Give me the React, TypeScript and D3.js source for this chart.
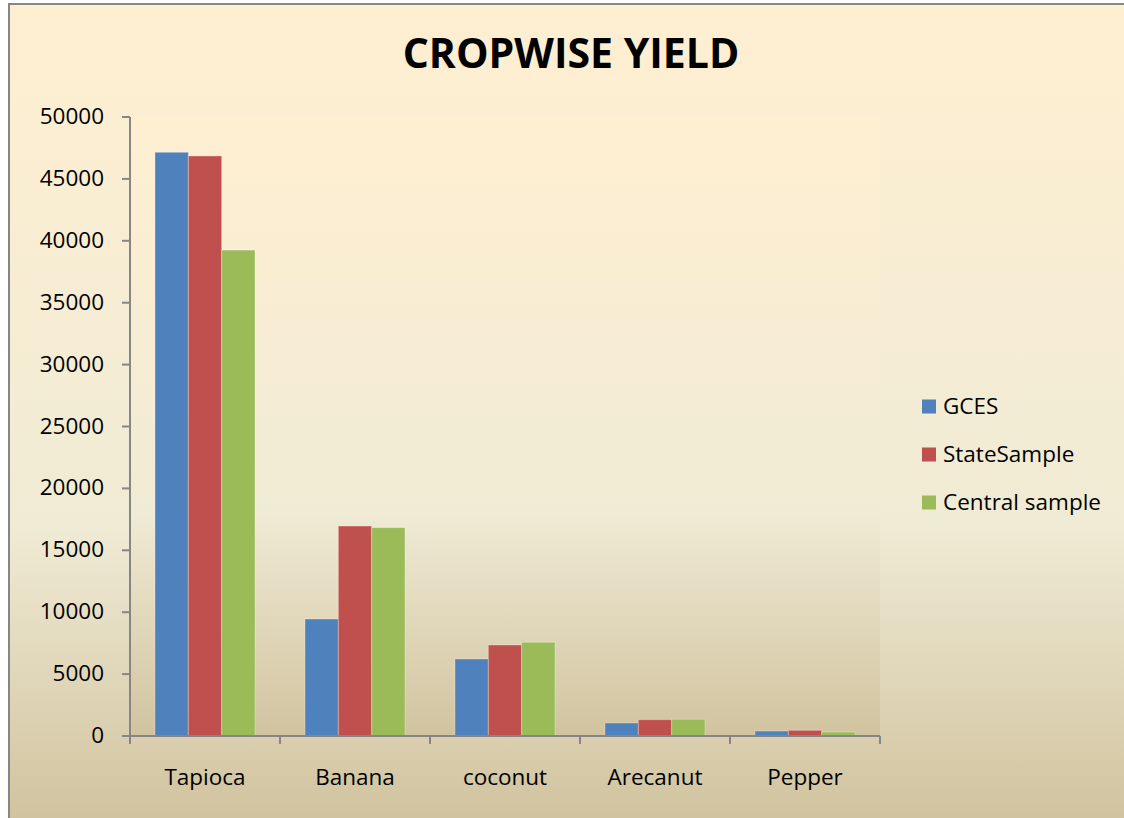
import React from "react";
import * as d3 from "d3";

const categories = ["Tapioca", "Banana", "coconut", "Arecanut", "Pepper"];
const seriesNames = ["GCES", "StateSample", "Central sample"];
const gces = [47150, 9450, 6220, 1050, 400];
const stateSample = [46850, 16960, 7350, 1320, 460];
const centralSample = [39250, 16830, 7570, 1350, 320];
const yTicks = [0, 5000, 10000, 15000, 20000, 25000, 30000, 35000, 40000, 45000, 50000];
const colors = ["#4F81BD", "#C0504D", "#9BBB59"];

const W = 1124;
const H = 818;
const plot = { left: 130, right: 880, top: 117, bottom: 736 };
const FONT = "'Open Sans', sans-serif";

export default function App() {
  const series = [gces, stateSample, centralSample];
  const x0 = d3.scaleBand<string>().domain(categories).range([plot.left, plot.right]).paddingInner(0).paddingOuter(0);
  const bw = x0.bandwidth() / 4.5;
  const y = d3.scaleLinear().domain([0, 50000]).range([plot.bottom, plot.top]);
  const gridEdges = d3.range(categories.length + 1).map((i) => plot.left + i * x0.bandwidth());

  return (
    <svg width={W} height={H} style={{ position: "absolute", left: 0, top: 0, display: "block" }}>
      <defs>
        <linearGradient id="bgGrad" gradientUnits="userSpaceOnUse" x1="0" y1="4" x2="0" y2={H}>
          <stop offset="0" stopColor="#FFEFD1" />
          <stop offset="0.64" stopColor="#F0EBD5" />
          <stop offset="1" stopColor="#D1C39F" />
        </linearGradient>
        <linearGradient id="plotGrad" gradientUnits="userSpaceOnUse" x1="0" y1={plot.top} x2="0" y2={plot.bottom}>
          <stop offset="0" stopColor="#FFEFD1" />
          <stop offset="0.64" stopColor="#F0EBD5" />
          <stop offset="1" stopColor="#D1C39F" />
        </linearGradient>
      </defs>
      <rect x={0} y={0} width={W} height={H} fill="#ffffff" />
      <rect x={9} y={4} width={W + 10} height={H + 10} fill="url(#bgGrad)" stroke="#868686" strokeWidth={2} />
      <rect x={plot.left} y={plot.top} width={plot.right - plot.left} height={plot.bottom - plot.top} fill="url(#plotGrad)" />

      <text x={571} y={68} textAnchor="middle" fontFamily={FONT} fontWeight={700} fontSize={41} fill="#000">
        CROPWISE YIELD
      </text>

      {categories.map((c, ci) =>
        series.map((s, si) => {
          const bx = (x0(c) as number) + 0.75 * bw + si * bw;
          const by = y(s[ci]);
          return (
            <rect
              key={c + si}
              x={bx}
              y={by}
              width={bw}
              height={plot.bottom - by}
              fill={colors[si]}
              stroke="rgba(255,255,255,0.3)"
              strokeWidth={1}
            />
          );
        })
      )}

      {/* Y axis */}
      <line x1={plot.left} x2={plot.left} y1={plot.top} y2={plot.bottom + 8} stroke="#868686" strokeWidth={2} />
      {yTicks.map((t) => (
        <g key={t}>
          <line x1={plot.left - 8} x2={plot.left} y1={y(t)} y2={y(t)} stroke="#868686" strokeWidth={2} />
          <text x={104} y={y(t) + 7} textAnchor="end" fontFamily={FONT} fontSize={22.5} fill="#000">
            {t}
          </text>
        </g>
      ))}

      {/* X axis */}
      <line x1={plot.left - 8} x2={plot.right} y1={plot.bottom} y2={plot.bottom} stroke="#868686" strokeWidth={2} />
      {gridEdges.map((gx, i) => (
        <line key={i} x1={gx} x2={gx} y1={plot.bottom} y2={plot.bottom + 8} stroke="#868686" strokeWidth={2} />
      ))}
      {categories.map((c) => (
        <text
          key={c}
          x={(x0(c) as number) + x0.bandwidth() / 2}
          y={plot.bottom + 49}
          textAnchor="middle"
          fontFamily={FONT}
          fontSize={22.5}
          fill="#000"
        >
          {c}
        </text>
      ))}

      {/* Legend */}
      {seriesNames.map((n, i) => (
        <g key={n}>
          <rect x={922} y={399.5 + i * 48} width={14} height={14} fill={colors[i]} />
          <text x={943} y={414 + i * 48} fontFamily={FONT} fontSize={22.5} fill="#000">
            {n}
          </text>
        </g>
      ))}
    </svg>
  );
}
